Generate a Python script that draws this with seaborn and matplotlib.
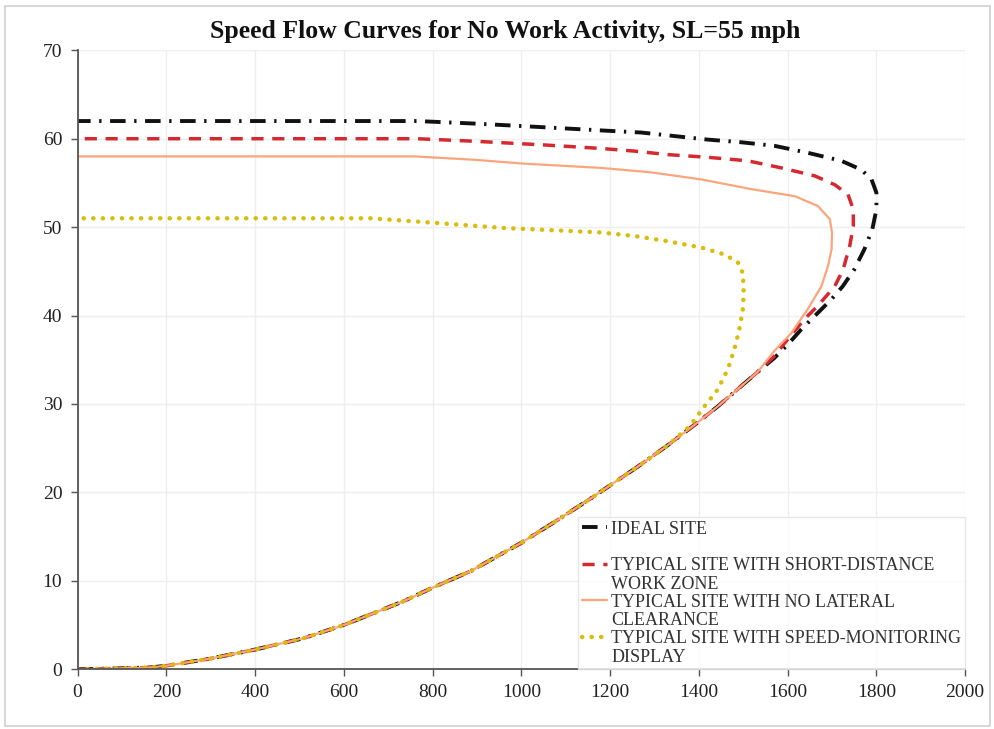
import matplotlib
matplotlib.use("Agg")
import matplotlib.pyplot as plt
from matplotlib.lines import Line2D
from matplotlib.patches import Rectangle
import pandas as pd
import seaborn as sns

# lower (congested) branch shared by every site, ordered by speed
common_flow = [0, 100, 164, 201, 299, 398, 509, 600, 735, 799, 886, 1000,
               1073, 1156, 1262, 1329]
common_speed = [0, 0.1, 0.2, 0.4, 1.2, 2.2, 3.5, 5.0, 7.7, 9.2, 11.1, 14.3,
                16.6, 19.3, 22.9, 25.3]

# each site: rest of the curve, from the shared branch up to free flow
ideal_flow = [1397, 1442, 1495, 1532, 1570, 1600, 1630, 1668, 1698, 1724, 1750,
              1773, 1791, 1800, 1800, 1789, 1766, 1721, 1646, 1570, 1495, 1420,
              1345, 1270, 1194, 1050, 900, 765, 0]
ideal_speed = [27.9, 29.7, 32.0, 33.6, 35.2, 36.7, 38.4, 40.3, 41.8, 43.3, 45.2,
               47.5, 49.8, 52.0, 53.9, 55.4, 56.5, 57.5, 58.4, 59.2, 59.6, 59.9,
               60.3, 60.7, 60.9, 61.3, 61.7, 62.0, 62.0]

short_flow = [1397, 1442, 1495, 1532, 1568, 1600, 1638, 1668, 1706, 1725, 1740,
              1748, 1748, 1736, 1706, 1661, 1586, 1510, 1420, 1330, 1255, 1179,
              1050, 900, 765, 0]
short_speed = [27.9, 29.7, 32.0, 33.6, 35.3, 37.3, 39.6, 41.1, 43.3, 45.2, 47.9,
               50.1, 52.0, 53.7, 54.8, 55.8, 56.7, 57.5, 57.9, 58.2, 58.6, 58.9,
               59.3, 59.7, 60.0, 60.0]

lateral_flow = [1397, 1442, 1495, 1532, 1570, 1608, 1645, 1676, 1691, 1699, 1700,
                1695, 1668, 1616, 1518, 1405, 1292, 1179, 1000, 900, 760, 0]
lateral_speed = [27.9, 29.7, 32.0, 33.6, 36.0, 38.0, 40.7, 43.3, 45.6, 47.5, 49.4,
                 50.9, 52.4, 53.5, 54.3, 55.4, 56.2, 56.7, 57.2, 57.6, 58.0, 58.0]

monitor_flow = [1380, 1412, 1442, 1465, 1480, 1491, 1499, 1501, 1499, 1488, 1458,
                1405, 1330, 1255, 1179, 961, 800, 660, 0]
monitor_speed = [27.5, 29.7, 31.6, 33.9, 36.2, 38.4, 40.7, 42.6, 44.8, 46.0, 46.9,
                 47.7, 48.4, 49.0, 49.4, 49.9, 50.5, 51.0, 51.0]

site_names = ["IDEAL SITE", "TYPICAL SITE WITH SHORT-DISTANCE\nWORK ZONE",
              "TYPICAL SITE WITH NO LATERAL\nCLEARANCE",
              "TYPICAL SITE WITH SPEED-MONITORING\nDISPLAY"]

curves = [(ideal_flow, ideal_speed), (short_flow, short_speed),
          (lateral_flow, lateral_speed), (monitor_flow, monitor_speed)]
frames = []
for name, (fl, sp) in zip(site_names, curves):
    frames.append(pd.DataFrame({"flow": common_flow + fl,
                                "speed": common_speed + sp,
                                "site": name}))
df = pd.concat(frames, ignore_index=True)

styles = {
    site_names[0]: dict(color="#111111", lw=2.8, dashes=(4, 2.2, 0.6, 2.2), dash_capstyle="butt"),
    site_names[1]: dict(color="#d42a2f", lw=2.5, dashes=(3.5, 2.5), dash_capstyle="butt"),
    site_names[2]: dict(color="#fba57d", lw=1.6, dashes=None, dash_capstyle="butt"),
    site_names[3]: dict(color="#d8bd0a", lw=3.2, dashes=(0.05, 2.1), dash_capstyle="round"),
}

sns.set_theme(style="white")
plt.rcParams["font.family"] = ["Liberation Serif", "DejaVu Serif"]

fig = plt.figure(figsize=(9.95, 7.29), dpi=100)
ax = fig.add_axes([0.078, 0.082, 0.892, 0.849])

handles = []
for name in site_names:
    st = styles[name]
    sub = df[df["site"] == name]
    sns.lineplot(data=sub, x="flow", y="speed", sort=False, estimator=None,
                 ax=ax, color=st["color"], lw=st["lw"], legend=False)
    line = ax.lines[-1]
    line.set_solid_capstyle("round")
    if st["dashes"] is not None:
        line.set_dashes(st["dashes"])
        line.set_dash_capstyle(st["dash_capstyle"])
    h = Line2D([], [], color=st["color"], lw=st["lw"])
    if st["dashes"] is not None:
        h.set_dashes(st["dashes"])
        h.set_dash_capstyle(st["dash_capstyle"])
    handles.append(h)

ax.set_xlim(0, 2000)
ax.set_ylim(0, 70)
ax.set_xticks(range(0, 2001, 200))
ax.set_yticks(range(0, 71, 10))
ax.grid(True, color="#eeeeee", lw=1.0)
ax.set_axisbelow(True)
ax.set_xlabel("")
ax.set_ylabel("")
for s in ["top", "right"]:
    ax.spines[s].set_visible(False)
for s in ["left", "bottom"]:
    ax.spines[s].set_color("#555555")
    ax.spines[s].set_linewidth(1.3)
ax.tick_params(axis="both", direction="out", length=5, width=1.0, color="#555555",
               labelsize=14, labelcolor="#222222", pad=6, left=True, bottom=True)

ax.set_title("Speed Flow Curves for No Work Activity, SL=55 mph", x=0.482,
             fontsize=18.5, fontweight="bold", color="#111111", pad=9)

# legend rows: each wrapped label gets a second row without a line
blank = Line2D([], [], lw=0)
leg_handles, leg_labels = [], []
for h, name in zip(handles, site_names):
    parts = name.split("\n")
    leg_handles.append(h)
    leg_labels.append(parts[0])
    leg_handles.append(blank)
    leg_labels.append(parts[1] if len(parts) > 1 else " ")
leg = ax.legend(leg_handles, leg_labels, loc="lower right", bbox_to_anchor=(1.0, 0.0),
                borderaxespad=0, frameon=True, fancybox=False, fontsize=13,
                handlelength=1.4, handletextpad=0.25, labelspacing=0.07,
                borderpad=0.2)
leg.get_frame().set_edgecolor("#e2e2e2")
leg.get_frame().set_linewidth(1.0)
for t in leg.get_texts():
    t.set_color("#333333")

fig.patches.append(Rectangle((0.005, 0.004), 0.99, 0.988, transform=fig.transFigure,
                             fill=False, edgecolor="#cfcfcf", lw=1.2))

fig.savefig("out.png", dpi=100)
